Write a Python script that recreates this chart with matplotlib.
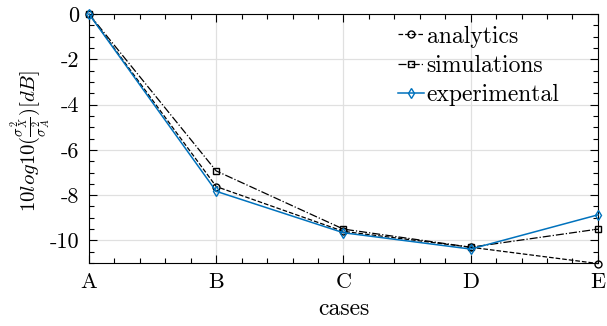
import numpy as np
import matplotlib
matplotlib.use("Agg")
import matplotlib.pyplot as plt
from matplotlib.ticker import MultipleLocator

plt.rcParams['font.family'] = 'serif'
plt.rcParams['font.serif'] = ['cmr10', 'DejaVu Serif']
plt.rcParams['mathtext.fontset'] = 'cm'
plt.rcParams['axes.unicode_minus'] = False

cases = ['A', 'B', 'C', 'D', 'E']
analytics = [0.0, -7.62, -9.6, -10.3, -11.02]
simulations = [0.0, -6.93, -9.5, -10.3, -9.5]
experimental = [0.0, -7.83, -9.66, -10.38, -8.87]

x = np.arange(len(cases))

fig = plt.figure(figsize=(6.07, 3.26), dpi=100)
ax = fig.add_axes([0.1466, 0.193, 0.8384, 0.764])

ax.plot(x, analytics, 'k--', marker='o', ms=5, mfc='none', lw=0.9, label='analytics',
        clip_on=False, zorder=3)
ax.plot(x, simulations, 'k-.', marker='s', ms=4.5, mfc='none', lw=0.9, label='simulations',
        clip_on=False, zorder=3)
ax.plot(x, experimental, '-', color='#0072BD', marker='d', ms=5.5, mfc='none', lw=1.1,
        label='experimental', clip_on=False, zorder=4)

ax.set_xlim(0, 4)
ax.set_ylim(-11, 0)
ax.set_xticks(x)
ax.set_xticklabels(cases)
ax.xaxis.set_minor_locator(MultipleLocator(0.2))
ax.set_yticks([0, -2, -4, -6, -8, -10])
ax.set_yticklabels(['0', '-2', '-4', '-6', '-8', '-10'])
ax.yaxis.set_minor_locator(MultipleLocator(0.5))
ax.tick_params(which='both', direction='in', top=True, right=True, labelsize=16, width=0.8)
ax.tick_params(which='major', length=6, pad=7)
ax.tick_params(which='minor', length=3.5)
ax.grid(True, which='major', color='#e0e0e0', lw=0.9)
ax.set_axisbelow(True)
for s in ax.spines.values():
    s.set_linewidth(0.8)

ax.set_xlabel('cases', fontsize=17, labelpad=4)
ax.set_ylabel(r'$10log10(\frac{\sigma^2_X}{\sigma^2_A})[dB]$', fontsize=15)
ax.yaxis.set_label_coords(-0.068, 0.49)

ax.legend(loc='upper right', bbox_to_anchor=(0.957, 1.02), frameon=False, fontsize=17,
          handlelength=1.1, handletextpad=0.1, labelspacing=0.3, borderaxespad=0.3)

fig.savefig('out.png', dpi=100)
